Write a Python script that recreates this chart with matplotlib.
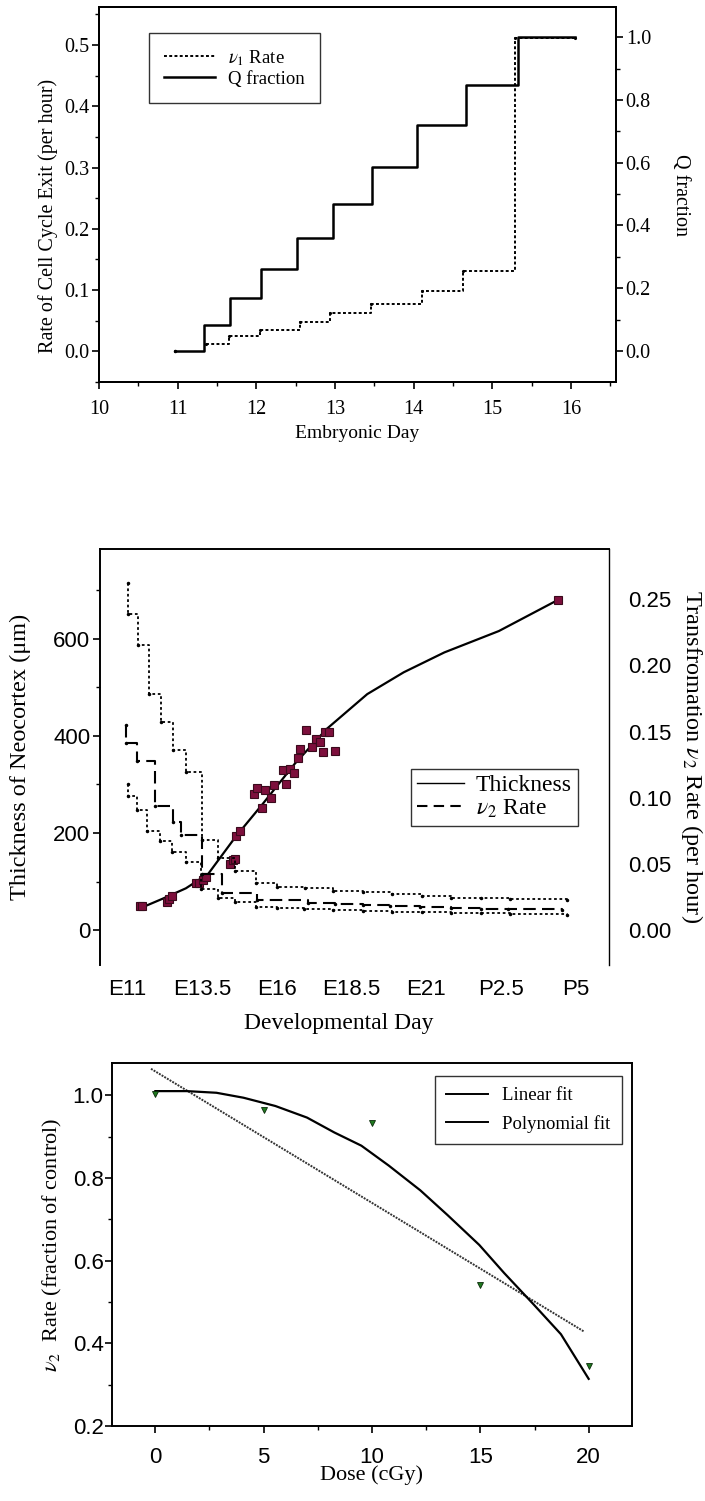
import matplotlib
matplotlib.use("Agg")
import matplotlib.pyplot as plt
from matplotlib.lines import Line2D
from matplotlib.ticker import MultipleLocator

plt.rcParams['mathtext.fontset'] = 'stix'
SERIF = 'Liberation Serif'
SANS = 'Liberation Sans'

# --- top: exit rate and Q fraction by embryonic day ---
v1_day = [11.36, 11.65, 12.05, 12.55, 12.93, 13.46, 14.11, 14.62, 15.29, 16.05]
v1_rate = [0.012, 0.025, 0.035, 0.048, 0.062, 0.078, 0.098, 0.131, 0.511, 0.511]
q_day = [10.96, 11.33, 11.67, 12.06, 12.51, 12.97, 13.47, 14.04, 14.66, 15.33, 16.05]
q_frac = [0.0, 0.082, 0.17, 0.262, 0.36, 0.469, 0.587, 0.72, 0.848, 1.0, 1.0]

# --- middle: neocortex thickness and v2 rate ---
thick_day = [11.44, 11.5, 12.32, 12.39, 12.5, 13.29, 13.41, 13.52, 13.64, 14.44, 14.52,
             14.59, 14.65, 14.77, 15.23, 15.35, 15.61, 15.49, 15.81, 15.91, 16.22, 16.32,
             16.44, 16.56, 16.71, 16.79, 16.97, 17.17, 17.32, 17.44, 17.53, 17.62, 17.73,
             17.96, 25.39]
thick_um = [50, 50, 58, 64, 70, 96, 97, 103, 110, 137, 144, 147, 193, 205, 281, 292, 289,
            252, 273, 298, 330, 300, 332, 324, 355, 373, 412, 378, 394, 387, 366, 407, 407,
            368, 680]
curve_day = [11.36, 12.2, 12.96, 13.71, 14.62, 15.53, 16.59, 17.66, 19.02, 20.24, 21.6,
             23.42, 25.39]
curve_um = [43, 65, 86, 116, 192, 260, 342, 414, 486, 531, 572, 616, 680]

hi_day = [11.01, 11.01, 11.36, 11.74, 12.12, 12.53, 12.96, 13.49, 14.05, 14.59, 15.3,
          16.02, 16.93, 17.88, 18.87, 19.86, 20.84, 21.83, 22.81, 23.8, 25.69]
hi_rate = [0.2626, 0.2386, 0.2154, 0.1785, 0.157, 0.136, 0.1194, 0.068, 0.0543, 0.0442,
           0.0354, 0.0328, 0.0316, 0.0298, 0.0286, 0.027, 0.026, 0.0245, 0.024, 0.0232,
           0.0227]
v2_day = [10.95, 10.95, 11.32, 11.94, 12.53, 12.8, 13.49, 14.17, 15.35, 17.05, 17.96,
          18.87, 19.78, 20.77, 21.83, 22.81, 23.72, 25.54]
v2_rate = [0.1553, 0.1414, 0.1275, 0.0934, 0.0816, 0.072, 0.0422, 0.0278, 0.0227, 0.0207,
           0.0197, 0.0189, 0.0182, 0.0174, 0.0169, 0.0161, 0.0157, 0.0152]
lo_day = [11.01, 11.01, 11.33, 11.67, 12.08, 12.5, 12.96, 13.45, 14.02, 14.59, 15.3, 15.99,
          16.9, 17.88, 18.87, 19.86, 20.84, 21.83, 22.81, 23.8, 25.69]
lo_rate = [0.11, 0.101, 0.0909, 0.075, 0.0669, 0.0586, 0.0513, 0.0308, 0.0245, 0.021,
           0.0177, 0.0164, 0.0157, 0.0152, 0.0146, 0.0139, 0.0134, 0.0129, 0.0126, 0.0121,
           0.0114]
dev_ticks = [11, 13.5, 16, 18.5, 21, 23.5, 26]
dev_labels = ['E11', 'E13.5', 'E16', 'E18.5', 'E21', 'P2.5', 'P5']

# --- bottom: v2 rate against dose ---
dose = [0, 5, 10, 15, 20]
dose_rate = [1.004, 0.964, 0.934, 0.542, 0.346]
lin_dose = [-0.2, 19.8]
lin_rate = [1.064, 0.428]
poly_dose = [0, 1.46, 2.82, 4.07, 5.54, 7.0, 8.26, 9.51, 10.77, 12.23, 13.49, 14.95, 16.1,
             17.46, 18.72, 20.0]
poly_rate = [1.01, 1.01, 1.006, 0.994, 0.974, 0.946, 0.910, 0.878, 0.830, 0.770, 0.710,
             0.638, 0.570, 0.494, 0.422, 0.314]

W, H = 705, 1501
fig = plt.figure(figsize=(W / 100, H / 100), dpi=100)


def box(left, top, right, bottom):
    return [left / W, 1 - bottom / H, (right - left) / W, (bottom - top) / H]


# ===== panel 1 =====
ax1 = fig.add_axes(box(99, 7, 616, 382))
ax1r = ax1.twinx()
ax1.plot(v1_day, v1_rate, drawstyle='steps-post', ls=(0, (1.5, 1.2)), color='black', lw=1.4,
         marker='.', ms=2.5)
ax1r.plot(q_day, q_frac, drawstyle='steps-post', color='black', lw=1.8)
ax1r.plot(q_day[0], q_frac[0], marker='.', ms=3, color='black')
ax1.set_xlim(10, 16.57)
ax1.set_ylim(-0.05, 0.562)
ax1r.set_ylim(-0.099, 1.096)
ax1.xaxis.set_major_locator(MultipleLocator(1))
ax1.xaxis.set_minor_locator(MultipleLocator(0.5))
ax1.yaxis.set_major_locator(MultipleLocator(0.1))
ax1.yaxis.set_minor_locator(MultipleLocator(0.05))
ax1r.yaxis.set_major_locator(MultipleLocator(0.2))
ax1r.yaxis.set_minor_locator(MultipleLocator(0.1))
for a in (ax1, ax1r):
    a.tick_params(which='major', length=5, width=1.2, labelsize=14.5, pad=2)
    a.tick_params(which='minor', length=3, width=1.0)
    for lab in a.get_xticklabels() + a.get_yticklabels():
        lab.set_fontfamily(SERIF)
    for s in a.spines.values():
        s.set_linewidth(1.4)
ax1.tick_params(axis='x', which='major', pad=8)
ax1.yaxis.set_major_formatter(plt.FuncFormatter(lambda v, p: f'{v:.1f}'))
ax1r.yaxis.set_major_formatter(plt.FuncFormatter(lambda v, p: f'{v:.1f}'))
ax1.set_xlabel('Embryonic Day', fontfamily=SERIF, fontsize=14, labelpad=4)
ax1.set_ylabel('Rate of Cell Cycle Exit (per hour)', fontfamily=SERIF, fontsize=14.5)
ax1.yaxis.set_label_coords(-0.08, 0.443)
ax1r.set_ylabel('Q fraction', fontfamily=SERIF, fontsize=14.5, rotation=270, labelpad=28)
h1 = [Line2D([], [], color='black', ls=(0, (1.5, 1.2)), lw=1.4),
      Line2D([], [], color='black', lw=1.8)]
leg1 = ax1.legend(h1, [r'$\nu_1$ Rate', 'Q fraction'], loc='upper left',
                  bbox_to_anchor=(149 / W, 1 - 33 / H), bbox_transform=fig.transFigure,
                  prop={'family': SERIF, 'size': 13.5}, frameon=True, fancybox=False,
                  edgecolor='black', borderpad=0.8, handlelength=2.7, labelspacing=0.15,
                  borderaxespad=0, handletextpad=0.7)
leg1.get_frame().set_linewidth(1.0)

# ===== panel 2 =====
ax2 = fig.add_axes(box(100, 549, 609, 965))
ax2r = ax2.twinx()
ax2.plot(curve_day, curve_um, color='black', lw=1.6, zorder=3)
ax2.plot(thick_day, thick_um, ls='none', marker='s', ms=5.5, mfc='#7d0f3c', mec='#3a0a1c',
         mew=0.8, zorder=4)
ax2r.plot(hi_day, hi_rate, drawstyle='steps-post', ls=(0, (1.5, 1.5)), color='black', lw=1.3,
          marker='.', ms=3)
ax2r.plot(v2_day, v2_rate, drawstyle='steps-post', ls=(0, (6, 3)), color='black', lw=1.5,
          marker='.', ms=3)
ax2r.plot(lo_day, lo_rate, drawstyle='steps-post', ls=(0, (1.5, 1.5)), color='black', lw=1.3,
          marker='.', ms=3)
ax2.set_xlim(10.09, 27.1)
ax2.set_ylim(-72, 785)
ax2r.set_ylim(-0.0265, 0.288)
ax2.set_xticks(dev_ticks)
ax2.set_xticklabels(dev_labels)
ax2.yaxis.set_major_locator(MultipleLocator(200))
ax2.yaxis.set_minor_locator(MultipleLocator(100))
ax2r.yaxis.set_major_locator(MultipleLocator(0.05))
ax2r.yaxis.set_major_formatter(plt.FuncFormatter(lambda v, p: f'{v:.2f}'))
ax2.spines['bottom'].set_visible(False)
ax2.spines['right'].set_visible(False)
for side in ('top', 'left', 'bottom'):
    ax2r.spines[side].set_visible(False)
ax2r.spines['right'].set_linewidth(1.0)
ax2.spines['top'].set_linewidth(1.4)
ax2.spines['left'].set_linewidth(1.4)
ax2.tick_params(axis='x', length=0, pad=10, labelsize=16)
ax2.tick_params(axis='y', which='major', length=5, width=1.2, labelsize=16, pad=2)
ax2.tick_params(axis='y', which='minor', length=3, width=1.0)
ax2r.tick_params(axis='y', length=0, pad=14, labelsize=16)
for lab in ax2.get_xticklabels() + ax2.get_yticklabels() + ax2r.get_yticklabels():
    lab.set_fontfamily(SANS)
ax2.set_xlabel('Developmental Day', fontfamily=SERIF, fontsize=17)
ax2.xaxis.set_label_coords(0.47, -0.115)
ax2.set_ylabel('Thickness of Neocortex (μm)', fontfamily=SERIF, fontsize=17.5, labelpad=16)
ax2r.set_ylabel(r'Transfromation $\nu_2$ Rate (per hour)', fontfamily=SERIF, fontsize=17.5,
                rotation=270, labelpad=24)
h2 = [Line2D([], [], color='black', lw=1.0), Line2D([], [], color='black', lw=1.5, ls=(0, (5, 3)))]
leg2 = ax2.legend(h2, ['Thickness', r'$\nu_2$ Rate'], loc='upper left',
                  bbox_to_anchor=(411 / W, 1 - 769 / H), bbox_transform=fig.transFigure,
                  prop={'family': SERIF, 'size': 17}, frameon=True, fancybox=False,
                  edgecolor='black', borderpad=0.25, handlelength=2.0, labelspacing=0.05,
                  borderaxespad=0, handletextpad=0.5)
leg2.get_frame().set_linewidth(1.0)

# ===== panel 3 =====
ax3 = fig.add_axes(box(112, 1063, 632, 1426))
ax3.plot(lin_dose, lin_rate, color='#333333', ls=(0, (1, 0.6)), lw=1.4)
ax3.plot(poly_dose, poly_rate, color='black', lw=1.6)
ax3.plot(dose, dose_rate, ls='none', marker='v', ms=5, mfc='#1f7a1f', mec='#0b2a0b', mew=0.6)
ax3.set_xlim(-2, 22)
ax3.set_ylim(0.2, 1.078)
ax3.xaxis.set_major_locator(MultipleLocator(5))
ax3.xaxis.set_minor_locator(MultipleLocator(2.5))
ax3.yaxis.set_major_locator(MultipleLocator(0.2))
ax3.yaxis.set_minor_locator(MultipleLocator(0.1))
ax3.yaxis.set_major_formatter(plt.FuncFormatter(lambda v, p: f'{v:.1f}'))
ax3.tick_params(which='major', length=5, width=1.2, labelsize=16, pad=1)
ax3.tick_params(which='minor', length=3, width=1.0)
ax3.tick_params(axis='x', which='major', pad=10)
for lab in ax3.get_xticklabels() + ax3.get_yticklabels():
    lab.set_fontfamily(SANS)
for s in ax3.spines.values():
    s.set_linewidth(1.4)
ax3.set_xlabel('Dose (cGy)', fontfamily=SERIF, fontsize=16, labelpad=-2)
ax3.set_ylabel(r'$\nu_2$  Rate (fraction of control)', fontfamily=SERIF, fontsize=16,
               labelpad=6)
h3 = [Line2D([], [], color='black', lw=1.4), Line2D([], [], color='black', lw=1.4)]
leg3 = ax3.legend(h3, ['Linear fit', 'Polynomial fit'], loc='upper left',
                  bbox_to_anchor=(435 / W, 1 - 1076 / H), bbox_transform=fig.transFigure,
                  prop={'family': SERIF, 'size': 13.5}, frameon=True, fancybox=False,
                  edgecolor='black', borderpad=0.6, handlelength=2.2, labelspacing=0.55,
                  borderaxespad=0, handletextpad=0.8)
leg3.get_frame().set_linewidth(1.0)

fig.savefig('out.png', dpi=100)
